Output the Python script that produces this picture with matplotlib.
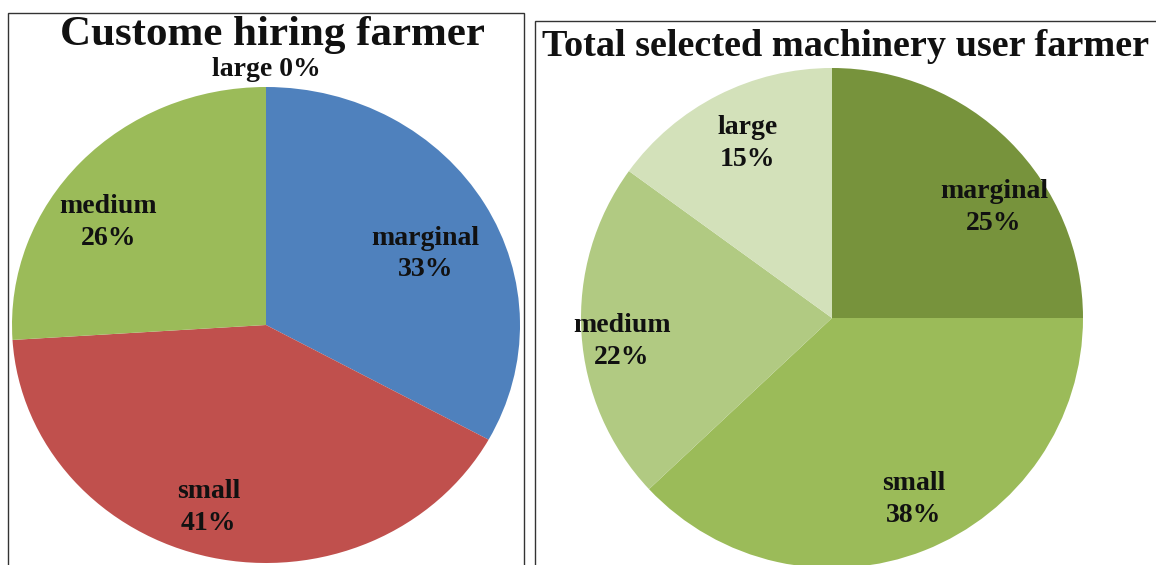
import matplotlib
matplotlib.use("Agg")
import matplotlib.pyplot as plt
from matplotlib.patches import Rectangle
import numpy as np

# Data
categories_left = ["marginal", "small", "medium", "large"]
values_left = [33, 41, 26, 0]
colors_left = ["#4F81BD", "#C0504D", "#9BBB59", "#9BBB59"]
title_left = "Custome hiring farmer"

categories_right = ["marginal", "small", "medium", "large"]
values_right = [25, 38, 22, 15]
colors_right = ["#77933C", "#9BBB59", "#B1CA82", "#D3E1BA"]
title_right = "Total selected machinery user farmer"

# Label placement (polar: angle in degrees, radius as fraction of pie radius)
label_pos_left = {"marginal": (26, 0.70), "small": (-106.7, 0.79),
                  "medium": (144.7, 0.76)}
label_pos_right = {"marginal": (35.3, 0.79), "small": (-65.4, 0.78),
                   "medium": (185.4, 0.84), "large": (115.3, 0.79)}

W, H = 1156, 565
fig = plt.figure(figsize=(W / 100, H / 100), dpi=100)
fig.patch.set_facecolor("white")

FONT = "Liberation Serif"
TXT = "#111111"

def px_axes(cx, cy, rx, ry):
    return fig.add_axes([(cx - rx) / W, (H - cy - ry) / H, 2 * rx / W, 2 * ry / H])

def draw_pie(ax, values, colors, cats, pos, fs, dy=0.0):
    wedges, _ = ax.pie(values, colors=colors, startangle=90, counterclock=False,
                       radius=1.0, wedgeprops=dict(linewidth=0))
    for w, cat, v in zip(wedges, cats, values):
        if v == 0 or cat not in pos:
            continue
        a, r = pos[cat]
        ang = np.deg2rad(a)
        ax.text(r * np.cos(ang), r * np.sin(ang) + dy, f"{cat}\n{v}%",
                ha="center", va="center", fontsize=fs, fontweight="bold",
                family=FONT, color=TXT, linespacing=1.36)
    ax.set_xlim(-1, 1)
    ax.set_ylim(-1, 1)
    ax.set_aspect("auto")
    ax.axis("off")
    return wedges

# Frames
fig.patches.append(Rectangle((7.5 / W, -0.05), 516 / W, (H - 12.5) / H + 0.05,
                             transform=fig.transFigure, fill=False,
                             edgecolor="#333333", linewidth=1.0))
fig.patches.append(Rectangle((534.5 / W, -0.05), 640 / W, (H - 20.5) / H + 0.05,
                             transform=fig.transFigure, fill=False,
                             edgecolor="#333333", linewidth=1.0))

# Left pie (slightly squashed vertically, as in the reference)
axl = px_axes(266, 325, 254, 238)
draw_pie(axl, values_left, colors_left, categories_left, label_pos_left, 20,
         dy=-2 / 238)
for cat, v in zip(categories_left, values_left):
    if v == 0:
        axl.text(0, 1.0 + 17 / 238, f"{cat} {v}%", ha="center", va="center",
                 fontsize=20, fontweight="bold", family=FONT, color=TXT)

# Right pie
axr = px_axes(832, 318, 251, 250)
draw_pie(axr, values_right, colors_right, categories_right, label_pos_right, 20,
         dy=-4 / 250)

# Titles
fig.text(272 / W, 1 - 35 / H, title_left, ha="center", va="center",
         fontsize=31, fontweight="bold", family=FONT, color=TXT)
fig.text(846 / W, 1 - 46 / H, title_right, ha="center", va="center",
         fontsize=27.5, fontweight="bold", family=FONT, color=TXT)

fig.savefig("out.png", dpi=100)
